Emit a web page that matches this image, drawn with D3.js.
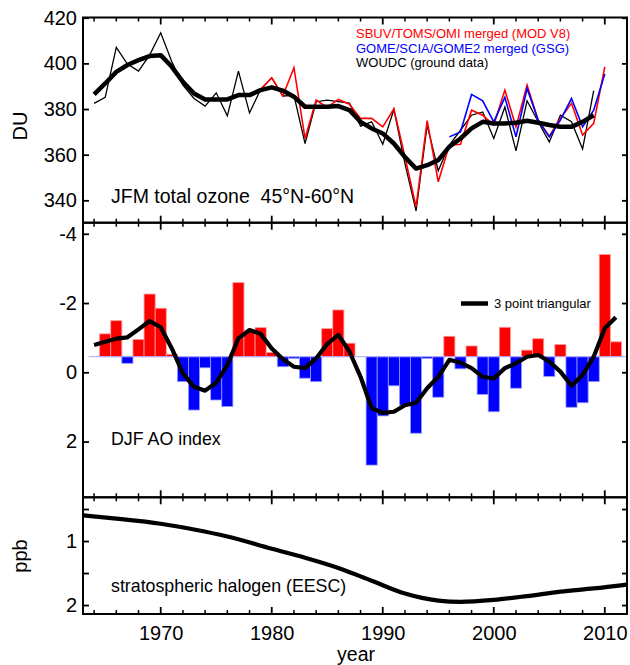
<!DOCTYPE html>
<html><head><meta charset="utf-8">
<script src="https://cdn.jsdelivr.net/npm/d3@7/dist/d3.min.js"></script>
<style>
body{margin:0;background:#fff}
svg{display:block}
text{font-family:"Liberation Sans",Arial,Helvetica,sans-serif;fill:#000;white-space:pre}
</style></head><body>
<svg id="chart" width="630" height="665"></svg>
<script>
// ---------- DATA ----------
const woudcStart = 1964;
const woudc = [382.5,385.1,407.0,399.7,396.6,403.6,413.4,400.7,390.5,384.6,381.3,387.1,377.0,396.6,378.3,388.6,393.7,385.7,386.0,364.9,383.2,383.9,383.2,382.6,372.5,374.4,364.6,379.8,356.1,335.4,372.9,353.0,364.2,370.7,377.3,378.7,367.1,380.9,361.7,383.6,374.4,365.6,377.3,374.4,362.5,388.1];
const sbuvStart = 1979;
const sbuv = [388.6,393.7,385.7,398.1,367.1,383.9,380.7,384.2,382.1,375.9,375.9,372.2,380.1,359.0,337.1,374.9,348.1,364.2,364.6,379.5,377.3,373.0,388.3,372.2,390.5,375.1,368.1,375.9,382.5,368.6,373.7,398.5];
const gomeStart = 1996;
const gome = [367.8,370.0,386.4,383.6,374.4,385.1,367.8,389.0,375.1,367.8,375.1,384.6,372.2,379.5,395.3];
const ozoneSmoothStart = 1964;
const ozoneSmooth = [386.4,391.2,396.3,399.3,401.4,403.2,403.6,398.5,391.9,386.8,384.2,384.2,384.2,386.1,386.1,388.3,389.5,388.1,385.4,381.0,381.0,381.0,381.3,379.5,374.4,371.5,369.3,364.9,359.0,353.9,355.4,357.6,363.5,367.1,371.5,374.4,373.7,373.7,374.0,374.9,374.0,373.0,372.2,372.2,374.4,377.3];

const aoStart = 1964;
const ao = [-0.45,-1.11,-1.49,-0.26,-0.95,-2.26,-1.85,-0.52,0.27,1.09,-0.13,0.80,0.99,-2.59,-1.20,-1.29,-0.57,-0.16,-0.40,0.17,0.27,-1.26,-1.80,-0.84,-0.45,2.68,1.26,0.39,0.95,1.76,-0.40,0.72,-1.04,-0.10,-0.76,0.64,1.14,-1.30,0.46,-0.64,-0.97,0.12,-0.80,1.01,0.88,0.27,-3.40,-0.88,-0.45];
const aoBaseline = -0.45;
const aoSmoothStart = 1964;
const aoSmooth = [-0.79,-0.88,-0.97,-1.01,-1.24,-1.48,-1.30,-0.69,0.03,0.42,0.53,0.30,-0.21,-0.98,-1.22,-1.11,-0.69,-0.38,-0.16,-0.12,-0.40,-0.82,-1.08,-0.60,0.13,1.04,1.17,1.14,0.95,0.88,0.46,0.13,-0.36,-0.28,-0.12,0.13,0.18,-0.12,-0.26,-0.45,-0.50,-0.31,-0.02,0.39,0.08,-0.45,-1.27,-1.59];

const eescYears = [1963,1966,1970,1973,1976,1980,1983,1986,1989,1992,1995,1997,2000,2003,2006,2009,2012];
const eesc      = [0.60,0.65,0.73,0.82,0.93,1.12,1.26,1.42,1.62,1.82,1.93,1.95,1.92,1.86,1.79,1.74,1.68];

const yearTicks = [1970,1980,1990,2000,2010];
const ozoneTicks = [340,360,380,400,420];
const aoTicks = [-4,-2,0,2];
const eescTicks = [0.5,1,1.5,2];
const eescLabels = {1:"1",2:"2"};

const legendOzone = [
  {label:"SBUV/TOMS/OMI merged (MOD V8)", color:"#ff0000"},
  {label:"GOME/SCIA/GOME2 merged (GSG)", color:"#0000ff"},
  {label:"WOUDC (ground data)", color:"#000000"}
];

// ---------- LAYOUT ----------
const L = 83, R = 627;
const P1 = {top:17.5, bottom:222.7};
const P2 = {top:222.7, bottom:497.3};
const P3 = {top:497.3, bottom:614};

const svg = d3.select("#chart");
const x = d3.scaleLinear().domain([1963, 2012]).range([L, R]);
const y1 = d3.scaleLinear().domain([330.2, 420.1]).range([P1.bottom, P1.top]);
const y2 = d3.scaleLinear().domain([-4.32, 3.61]).range([P2.top, P2.bottom]);
const y3 = d3.scaleLinear().domain([0.317, 2.14]).range([P3.top, P3.bottom]);

const toPts = (start, arr) => arr.map((v,i)=>[start+i, v]);

// ---------- PANEL 1 ----------
const g1 = svg.append("g");
const line1 = d3.line().x(d=>x(d[0])).y(d=>y1(d[1]));
g1.append("path").datum(toPts(woudcStart, woudc)).attr("d", line1)
  .attr("fill","none").attr("stroke","#000").attr("stroke-width",1.3);
g1.append("path").datum(toPts(sbuvStart, sbuv)).attr("d", line1)
  .attr("fill","none").attr("stroke","#ff0000").attr("stroke-width",1.6);
g1.append("path").datum(toPts(gomeStart, gome)).attr("d", line1)
  .attr("fill","none").attr("stroke","#0000ff").attr("stroke-width",1.6);
g1.append("path").datum(toPts(ozoneSmoothStart, ozoneSmooth)).attr("d", line1)
  .attr("fill","none").attr("stroke","#000").attr("stroke-width",4.5).attr("stroke-linejoin","round");

legendOzone.forEach((d,i)=>{
  g1.append("text").attr("x",356).attr("y",38+i*14.6).attr("font-size",13).style("fill",d.color).text(d.label);
});
g1.append("text").attr("x",111).attr("y",203).attr("font-size",19.5).text("JFM total ozone  45°N-60°N");

// ---------- PANEL 2 ----------
const g2 = svg.append("g");
const bw = x(1964)-x(1963);
const aoPts = toPts(aoStart, ao);
g2.selectAll("rect.bar").data(aoPts).join("rect").attr("class","bar")
  .attr("x", d=>x(d[0]-0.5)).attr("width", bw)
  .attr("y", d=>Math.min(y2(d[1]), y2(aoBaseline)))
  .attr("height", d=>Math.abs(y2(d[1])-y2(aoBaseline)))
  .attr("fill", d=>d[1]<aoBaseline ? "#ff0000" : "#0000ff")
  .attr("stroke", d=>d[1]<aoBaseline ? "#ff9a9a" : "#9a9aff").attr("stroke-width",0.8);
g2.append("line").attr("x1",x(1963.5)).attr("x2",R).attr("y1",y2(aoBaseline)).attr("y2",y2(aoBaseline))
  .attr("stroke","#a8a8ff").attr("stroke-width",1);
const line2 = d3.line().x(d=>x(d[0])).y(d=>y2(d[1]));
g2.append("path").datum(toPts(aoSmoothStart, aoSmooth)).attr("d", line2)
  .attr("fill","none").attr("stroke","#000").attr("stroke-width",4.2).attr("stroke-linejoin","round");
g2.append("line").attr("x1",461).attr("x2",488).attr("y1",303.5).attr("y2",303.5).attr("stroke","#000").attr("stroke-width",4.5);
g2.append("text").attr("x",494).attr("y",308).attr("font-size",13).text("3 point triangular");
g2.append("text").attr("x",111).attr("y",444.5).attr("font-size",17.8).text("DJF AO index");

// ---------- PANEL 3 ----------
const g3 = svg.append("g");
const line3 = d3.line().x((d,i)=>x(eescYears[i])).y(d=>y3(d)).curve(d3.curveMonotoneX);
g3.append("path").datum(eesc).attr("d", line3)
  .attr("fill","none").attr("stroke","#000").attr("stroke-width",4.2);
g3.append("text").attr("x",111).attr("y",592).attr("font-size",17.8).text("stratospheric halogen (EESC)");

// ---------- AXES ----------
const minorYears = d3.range(1964, 2013, 2);
function xTicks(yPos, dir){ // dir: -1 up, +1 down
  const ax = svg.append("g").attr("class","xt");
  minorYears.forEach(yr=>{
    const major = yr % 10 === 0;
    ax.append("line").attr("x1",x(yr)).attr("x2",x(yr)).attr("y1",yPos).attr("y2",yPos+dir*(major?7:4))
      .attr("stroke","#000").attr("stroke-width",major?1.8:1.5);
  });
}
xTicks(P1.top, 1);
xTicks(P1.bottom, -1); xTicks(P2.top, 1);
xTicks(P2.bottom, -1); xTicks(P3.top, 1);
xTicks(P3.bottom, -1);

function yAxis(scale, ticks, fmt){
  svg.append("g").attr("transform",`translate(${L},0)`)
    .call(d3.axisLeft(scale).tickValues(ticks).tickSize(-6).tickPadding(6).tickFormat(fmt))
    .call(g=>{g.select(".domain").remove();
      g.selectAll(".tick line").attr("stroke-width",1.8);
      g.selectAll("text").attr("font-size",20).style("font-family",'"Liberation Sans",Arial,sans-serif');});
  svg.append("g").attr("transform",`translate(${R},0)`)
    .call(d3.axisRight(scale).tickValues(ticks).tickSize(-5).tickFormat(""))
    .call(g=>{g.select(".domain").remove(); g.selectAll(".tick line").attr("stroke-width",1.8);});
}
yAxis(y1, ozoneTicks, d3.format("d"));
yAxis(y2, aoTicks, d=>String(d));
yAxis(y3, eescTicks, d=>eescLabels[d]||"");

svg.append("g").attr("transform",`translate(0,${P3.bottom})`)
  .call(d3.axisBottom(x).tickValues(yearTicks).tickSize(0).tickPadding(12).tickFormat(d3.format("d")))
  .call(g=>{g.select(".domain").remove(); g.selectAll("text").attr("font-size",20);});

// frames
[P1,P2,P3].forEach(p=>{
  svg.append("rect").attr("x",L).attr("y",p.top).attr("width",R-L).attr("height",p.bottom-p.top)
    .attr("fill","none").attr("stroke","#000").attr("stroke-width",2);
});

// axis titles
svg.append("text").attr("transform","translate(27,126) rotate(-90)").attr("text-anchor","middle").attr("font-size",20).text("DU");
svg.append("text").attr("transform","translate(27,556) rotate(-90)").attr("text-anchor","middle").attr("font-size",20).text("ppb");
svg.append("text").attr("x",356).attr("y",661).attr("text-anchor","middle").attr("font-size",19.5).text("year");
</script>
</body></html>
